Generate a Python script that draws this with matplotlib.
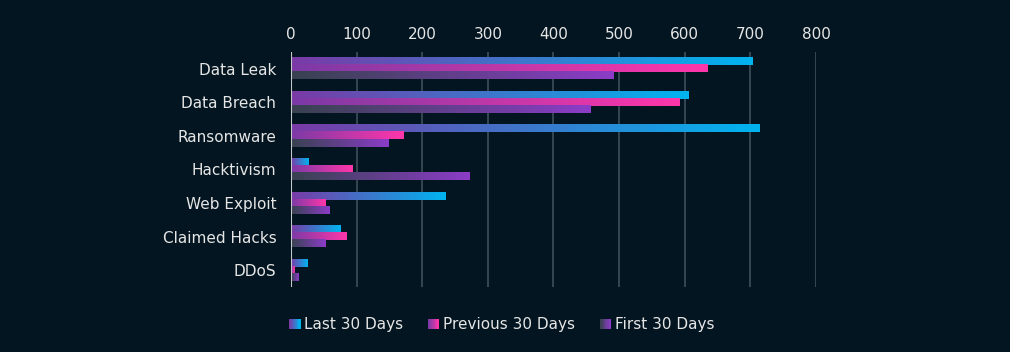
import numpy as np
import matplotlib
matplotlib.use("Agg")
import matplotlib.pyplot as plt
from matplotlib.colors import LinearSegmentedColormap
from matplotlib.legend_handler import HandlerBase
from matplotlib.patches import Rectangle

# data
categories = ["Data Leak", "Data Breach", "Ransomware", "Hacktivism",
              "Web Exploit", "Claimed Hacks", "DDoS"]
last_30 = [703, 605, 714, 27, 236, 76, 25]
prev_30 = [635, 592, 172, 93, 53, 85, 6]
first_30 = [492, 456, 149, 272, 59, 53, 12]
series_names = ["Last 30 Days", "Previous 30 Days", "First 30 Days"]
x_ticks = [0, 100, 200, 300, 400, 500, 600, 700, 800]

bg = "#021520"
txt = "#e6e6e6"
grads = [("#7a3aa6", "#00b4f0"),
         ("#7b3aa6", "#ff36aa"),
         ("#384250", "#8c3cc8")]
cmaps = [LinearSegmentedColormap.from_list("g%d" % i, c) for i, c in enumerate(grads)]

plt.rcParams["font.family"] = ["DejaVu Sans"]

fig = plt.figure(figsize=(10.1, 3.52), dpi=100, facecolor=bg)
ax = fig.add_axes([0.288, 0.185, 0.52, 0.667], facecolor=bg)

grad = np.linspace(0, 1, 256).reshape(1, -1)
h = 0.21
series = [last_30, prev_30, first_30]
for s, vals in enumerate(series):
    for i, v in enumerate(vals):
        y0 = i - 1.5 * h + s * h
        ax.imshow(grad, cmap=cmaps[s], aspect="auto", extent=[0, v, y0 + h, y0],
                  interpolation="bilinear", zorder=3)

ax.set_xlim(0, 800)
ax.set_ylim(len(categories) - 0.5, -0.5)
ax.set_yticks(range(len(categories)))
ax.set_yticklabels(categories)
ax.set_xticks(x_ticks)
ax.xaxis.tick_top()
ax.tick_params(axis="both", length=0, colors=txt, labelsize=11)
ax.tick_params(axis="x", pad=7.5)
ax.tick_params(axis="y", pad=10.5)
ax.grid(axis="x", color="#3a4a56", linewidth=1.3, zorder=0)
for sp in ax.spines.values():
    sp.set_visible(False)
ax.axvline(0, color="#c8c8c8", linewidth=1.5, zorder=4)


class GradHandler(HandlerBase):
    def __init__(self, cmap):
        super().__init__()
        self.cmap = cmap

    def create_artists(self, legend, orig_handle, xdescent, ydescent,
                       width, height, fontsize, trans):
        n = 12
        side = height * 1.0
        x0 = width - side
        arts = []
        for k in range(n):
            r = Rectangle((x0 + k * side / n - xdescent, -ydescent + (height - side) / 2),
                          side / n + 0.3, side, facecolor=self.cmap(k / (n - 1)),
                          edgecolor="none", transform=trans)
            arts.append(r)
        return arts


handles = [Rectangle((0, 0), 1, 1) for _ in series_names]
hmap = {hd: GradHandler(cm) for hd, cm in zip(handles, cmaps)}
leg = fig.legend(handles, series_names, handler_map=hmap, loc="center",
                 bbox_to_anchor=(0.496, 0.077), ncol=3, frameon=False,
                 fontsize=11, handlelength=0.8, handletextpad=0.25,
                 columnspacing=1.55, labelcolor=txt)

fig.savefig("out.png", dpi=100, facecolor=bg)
